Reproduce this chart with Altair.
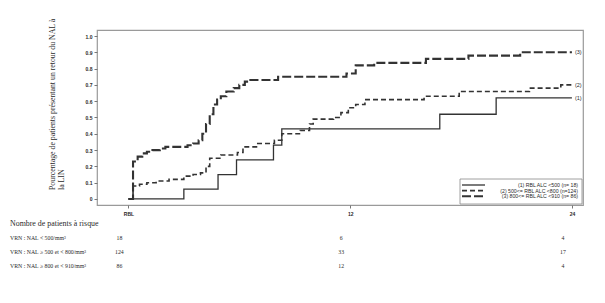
import altair as alt
import pandas as pd

# ---- data ----
t1 = [0, 3.0, 4.85, 5.85, 7.85, 8.3, 16.85, 19.9, 24]
v1 = [0, 0.06, 0.15, 0.24, 0.33, 0.43, 0.52, 0.62, 0.62]

t2 = [0, 0.25, 0.6, 1.0, 1.5, 2.2, 3.0, 3.5, 3.9, 4.2, 4.4, 5.0, 5.9, 6.2, 7.0, 7.9, 8.3,
      9.3, 9.8, 10.0, 11.1, 11.5, 11.9, 12.3, 12.8, 16.0, 17.9, 21.7, 23.4, 24]
v2 = [0, 0.08, 0.09, 0.10, 0.11, 0.12, 0.14, 0.15, 0.16, 0.20, 0.25, 0.27, 0.285, 0.32, 0.34,
      0.36, 0.40, 0.42, 0.46, 0.49, 0.50, 0.53, 0.56, 0.58, 0.61, 0.63, 0.66, 0.68, 0.70, 0.70]

t3 = [0, 0.25, 0.5, 0.75, 1.0, 1.3, 1.7, 2.0, 3.2, 3.5, 3.8, 4.0, 4.2, 4.4, 4.6, 4.8, 5.0,
      5.3, 5.7, 6.0, 6.3, 6.6, 8.1, 11.8, 12.3, 13.3, 16.1, 18.4, 21.2, 24]
v3 = [0, 0.23, 0.26, 0.28, 0.29, 0.30, 0.31, 0.32, 0.33, 0.34, 0.36, 0.40, 0.46, 0.52, 0.58,
      0.61, 0.63, 0.66, 0.68, 0.70, 0.72, 0.73, 0.75, 0.77, 0.82, 0.835, 0.86, 0.88, 0.90, 0.90]

end_labels = ["(1)", "(2)", "(3)"]
legend_labels = ["(1) RBL ALC <500 (n= 18)",
                 "(2) 500<= RBL ALC <800 (n=124)",
                 "(3) 800<= RBL ALC <910 (n= 86)"]

risk_times = [0, 12, 24]
risk_row_labels = ["VRN : NAL < 500/mm³",
                   "VRN : NAL ≥ 500 et < 800/mm³",
                   "VRN : NAL ≥ 800 et < 910/mm³"]
risk_counts = [[18, 6, 4], [124, 33, 17], [86, 12, 4]]

y_ticks = [0, 0.1, 0.2, 0.3, 0.4, 0.5, 0.6, 0.7, 0.8, 0.9, 1.0]
x_ticks = [0, 12, 24]
y_title = ["Pourcentage de patients présentant un retour du NAL à", "la LIN"]
risk_title = "Nombre de patients à risque"

# ---- frames ----
d1 = pd.DataFrame({"t": t1, "v": v1})
d2 = pd.DataFrame({"t": t2, "v": v2})
d3 = pd.DataFrame({"t": t3, "v": v3})
ends = pd.DataFrame({"t": [t1[-1], t2[-1], t3[-1]], "v": [v1[-1], v2[-1], v3[-1]], "lab": end_labels})

W, H = 486, 175
INK = "#2a2a2a"
SANS = "Liberation Sans"
SERIF = "Liberation Serif"
DASHES = [None, [5, 3], [9, 3]]
WIDTHS = [1.3, 1.6, 2.1]


def X():
    return alt.X("t:Q", scale=alt.Scale(domain=[-1.7, 24.6], nice=False, zero=False),
                 axis=alt.Axis(values=x_ticks, title=None))


def Y():
    return alt.Y("v:Q", scale=alt.Scale(domain=[-0.037, 1.037], nice=False, zero=False),
                 axis=alt.Axis(values=y_ticks, title=None))


def curve(df, dash, width):
    kw = dict(interpolate="step-after", color="#333", strokeWidth=width)
    if dash:
        kw["strokeDash"] = dash
    return alt.Chart(df).mark_line(**kw).encode(x=X(), y=Y())

c1 = curve(d1, DASHES[0], WIDTHS[0])
c2 = curve(d2, DASHES[1], WIDTHS[1])
c3 = curve(d3, DASHES[2], WIDTHS[2])

endtxt = alt.Chart(ends).mark_text(align="left", dx=3, fontSize=5.5, font=SANS, color=INK).encode(
    x=X(), y=Y(), text="lab:N")

# legend (manual, bottom-right inside plot)
leg_box = alt.Chart(pd.DataFrame({"a": [0]})).mark_rect(fill="white", stroke="#888", strokeWidth=0.8).encode(
    x=alt.value(363), x2=alt.value(485), y=alt.value(149), y2=alt.value(174))
leg_rows = []
for i, (lab, dash, w) in enumerate(zip(legend_labels, DASHES, WIDTHS)):
    yy = 155 + i * 5.6
    kw = dict(color="#333", strokeWidth=w)
    if dash:
        kw["strokeDash"] = dash
    leg_rows.append(alt.Chart(pd.DataFrame({"a": [0]})).mark_rule(**kw).encode(
        x=alt.value(365), x2=alt.value(388), y=alt.value(yy)))
    leg_rows.append(alt.Chart(pd.DataFrame({"lab": [lab]})).mark_text(
        align="right", baseline="middle", fontSize=5.2, font=SANS, color=INK).encode(
        x=alt.value(481), y=alt.value(yy), text="lab:N"))

# y-axis title (two rotated serif lines)
ytitle = [alt.Chart(pd.DataFrame({"s": [s]})).mark_text(
    angle=270, align="left", baseline="middle", fontSize=7.8, font=SERIF, color=INK).encode(
    x=alt.value(-44 + 8.8 * i), y=alt.value(160), text="s:N") for i, s in enumerate(y_title)]

# risk table
rtitle = alt.Chart(pd.DataFrame({"s": [risk_title]})).mark_text(
    align="left", baseline="middle", fontSize=7.9, font=SERIF, color=INK).encode(
    x=alt.value(-87), y=alt.value(194), text="s:N")
rows = []
rec = []
for i, (lab, counts) in enumerate(zip(risk_row_labels, risk_counts)):
    yy = 208 + 14 * i
    rows.append(alt.Chart(pd.DataFrame({"s": [lab]})).mark_text(
        align="left", baseline="middle", fontSize=5.8, font=SERIF, color=INK).encode(
        x=alt.value(-87), y=alt.value(yy), text="s:N"))
    for t, c in zip(risk_times, counts):
        rec.append({"t": t, "n": str(c), "row": i})
rdf = pd.DataFrame(rec)
nums = []
for i in range(3):
    nums.append(alt.Chart(rdf[rdf.row == i]).mark_text(
        align="center", baseline="middle", dx=-9, fontSize=5.8, font=SERIF, color=INK).encode(
        x=X(), y=alt.value(208 + 14 * i), text="n:N"))

chart = alt.layer(c1, c2, c3, endtxt, leg_box, *leg_rows, *ytitle, rtitle, *rows, *nums).properties(
    width=W, height=H,
    autosize=alt.AutoSizeParams(type="none"),
    padding={"left": 97, "top": 30, "right": 22, "bottom": 98},
    background="white",
).configure_view(stroke="#9a9a9a", strokeWidth=1.2).configure_axis(
    domain=False, grid=False, tickSize=3, tickColor="#777", labelFontSize=5,
    labelFontWeight="bold", labelFont=SANS, labelColor=INK, labelOverlap=False,
).configure_axisX(
    labelExpr="datum.value == 0 ? 'RBL' : datum.label", labelPadding=3
).configure_axisY(
    labelExpr="datum.value == 0 ? '0' : format(datum.value, '.1f')", labelPadding=2,
    labelBound=False, labelFlush=False
)

chart.save("out.html", embed_options={"renderer": "svg", "actions": False})
